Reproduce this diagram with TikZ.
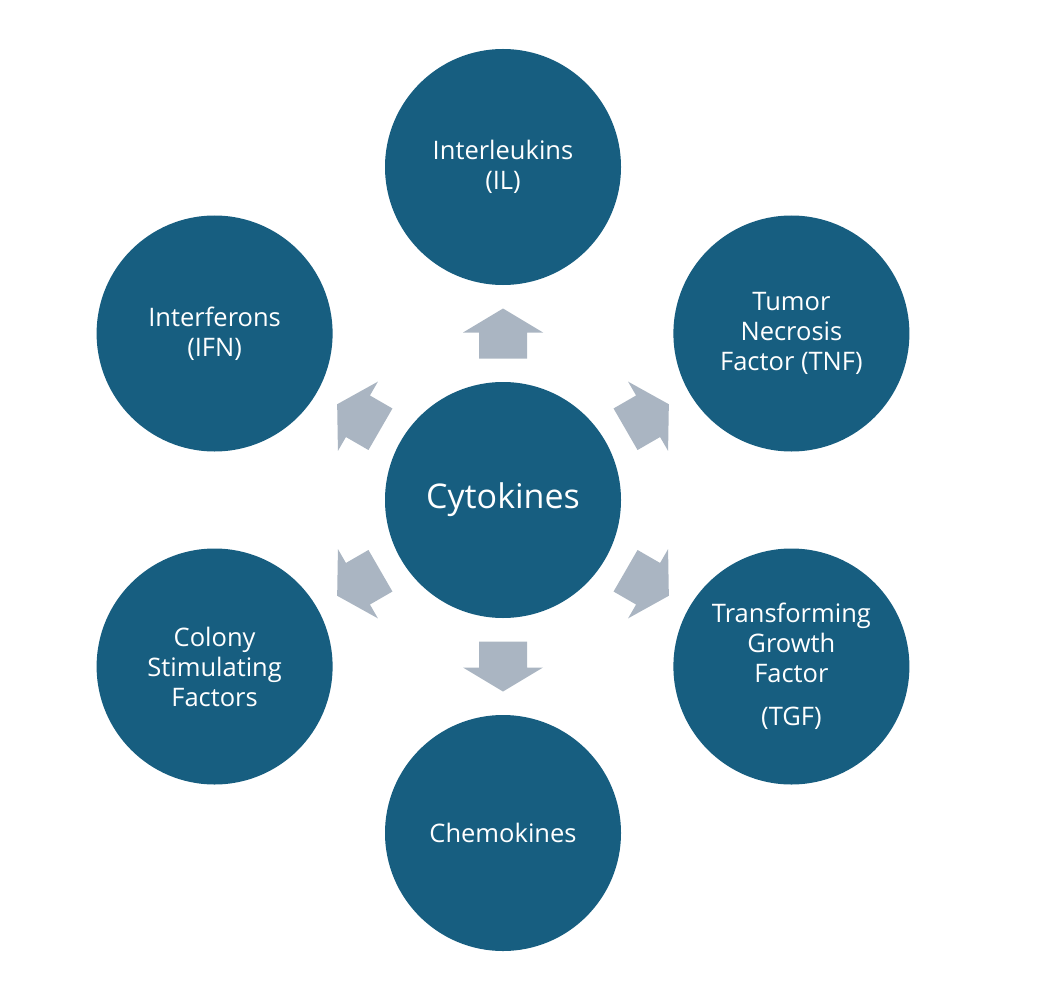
\documentclass[tikz,border=0pt]{standalone}
\usepackage{fontspec}
\setmainfont{Open Sans}
\usetikzlibrary{calc}
\definecolor{circblue}{RGB}{23,94,128}
\definecolor{arrgrey}{RGB}{170,181,194}
\tikzset{
  bubble/.style={circle, fill=circblue, draw=none, minimum size=236pt, inner sep=0pt,
    text=white, align=center, font=\fontsize{25.5}{30}\selectfont},
  hub/.style={bubble, font=\fontsize{34}{40}\selectfont},
  blockarrow/.pic={\fill[arrgrey] (-25,-24) -- (1,-24) -- (1,-40) -- (25,0) -- (1,40) -- (1,24) -- (-25,24) -- cycle;}
}
\begin{document}
\begin{tikzpicture}[x=1pt,y=-1pt]
\useasboundingbox (0,0) rectangle (1038,1000);
\node[hub] (c) at (503,500) {Cytokines};
\node[bubble] (il) at (503,167) {Interleukins\\(IL)};
\node[bubble] (tnf) at (791.4,333.5) {Tumor\\Necrosis\\Factor (TNF)};
\node[bubble] (tgf) at (791.4,666.5) {Transforming\\Growth\\Factor\\[13pt](TGF)};
\node[bubble] (ch) at (503,833) {Chemokines};
\node[bubble] (csf) at (214.6,666.5) {Colony\\Stimulating\\Factors};
\node[bubble] (ifn) at (214.6,333.5) {Interferons\\(IFN)};
\foreach \t/\a in {il/90, tnf/30, tgf/-30, ch/-90, csf/-150, ifn/150}{
  \coordinate (m-\t) at ($(c)!0.5!(\t)$);
  \pic[rotate=\a] at (m-\t) {blockarrow};
}
\end{tikzpicture}
\end{document}
